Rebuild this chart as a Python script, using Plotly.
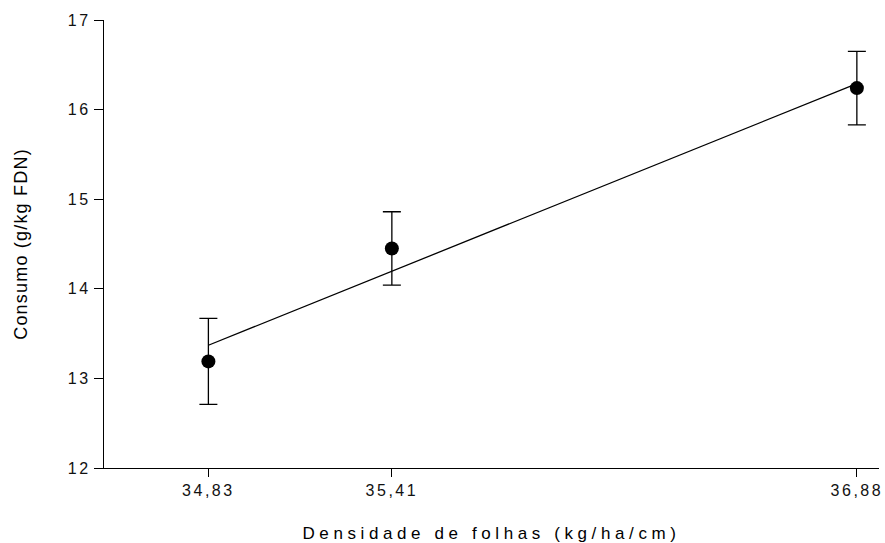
import plotly.graph_objects as go

# Data
densidade = [34.83, 35.41, 36.88]
consumo = [13.19, 14.45, 16.24]
erro = [0.48, 0.41, 0.41]
fit_x = [34.83, 36.88]
fit_y = [13.37, 16.29]
x_ticks = [34.83, 35.41, 36.88]
x_ticklabels = ["34,83", "35,41", "36,88"]
y_ticks = [12, 13, 14, 15, 16, 17]

FONT = "Liberation Sans, Arial, sans-serif"

fig = go.Figure()
fig.add_trace(go.Scatter(
    x=fit_x, y=fit_y, mode="lines",
    line=dict(color="black", width=1.3),
    showlegend=False, hoverinfo="skip",
))
fig.add_trace(go.Scatter(
    x=densidade, y=consumo, mode="markers",
    marker=dict(color="black", size=14, symbol="circle"),
    error_y=dict(type="data", array=erro, visible=True,
                 color="black", thickness=1.3, width=9),
    showlegend=False,
))

fig.update_layout(
    width=885, height=543,
    margin=dict(l=104, r=6, t=20, b=75),
    paper_bgcolor="white", plot_bgcolor="white",
    font=dict(family=FONT, color="black"),
    xaxis=dict(
        range=[34.5, 36.95], tickmode="array", tickvals=x_ticks,
        ticktext=x_ticklabels, showgrid=False, zeroline=False,
        showline=True, linecolor="black", linewidth=1.3, automargin=False,
        ticks="outside", ticklen=8, tickwidth=1.3, tickcolor="black",
        tickfont=dict(size=16, family=FONT, color="#111"),
        title=dict(text="Densidade de folhas (kg/ha/cm)",
                   font=dict(size=17, family=FONT, color="black"), standoff=28),
    ),
    yaxis=dict(
        range=[12, 17], tickmode="array", tickvals=y_ticks,
        showgrid=False, zeroline=False, automargin=False,
        showline=True, linecolor="black", linewidth=1.3,
        ticks="outside", ticklen=9, tickwidth=1.3, tickcolor="black",
        tickfont=dict(size=16, family=FONT, color="#111"),
        title=dict(text="Consumo (g/kg FDN)",
                   font=dict(size=18, family=FONT, color="black"), standoff=40),
    ),
)

post = """
var gd = document.getElementById('{plot_id}');
function spacing(){
  gd.querySelectorAll('.xtick text, .ytick text').forEach(function(t){ t.style.letterSpacing='2.5px'; });
  gd.querySelectorAll('.g-xtitle text').forEach(function(t){ t.style.letterSpacing='4.6px'; });
  gd.querySelectorAll('.g-ytitle text').forEach(function(t){ t.style.letterSpacing='1.2px'; });
}
spacing();
setTimeout(spacing, 0);
setTimeout(spacing, 200);
if (gd.on) { gd.on('plotly_afterplot', spacing); }
"""

fig.write_html("out.html", post_script=post)
